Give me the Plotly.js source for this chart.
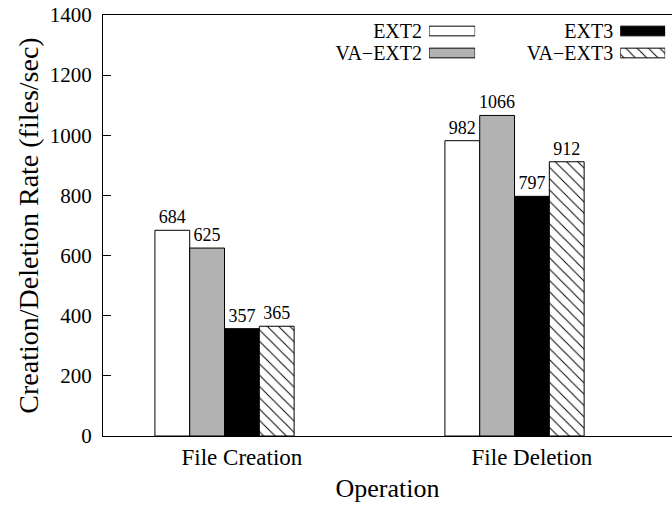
<!DOCTYPE html>
<html>
<head>
<meta charset="utf-8">
<script src="https://cdn.plot.ly/plotly-3.0.1.min.js"></script>
<style>
  html, body { margin: 0; padding: 0; background: #fff; }
  #chart { width: 672px; height: 506px; }
</style>
</head>
<body>
<div id="chart"></div>
<script>
// Throughput of file creation / deletion per file system
const categories = ['File Creation', 'File Deletion'];
const seriesNames = ['EXT2', 'VA\u2212EXT2', 'EXT3', 'VA\u2212EXT3'];
const ext2 = [684, 982];
const vaExt2 = [625, 1066];
const ext3 = [357, 797];
const vaExt3 = [365, 912];
const yTicks = [0, 200, 400, 600, 800, 1000, 1200, 1400];

const series = [ext2, vaExt2, ext3, vaExt3];

// Bar appearance and placement inside each cluster
const FONT = '"Liberation Serif", "Times New Roman", serif';
const fills = ['#ffffff', '#b2b2b2', '#000000', '#ffffff'];
const hatch = ['', '', '', '\\'];
const offsets = [-0.30, -0.18, -0.06, 0.06];
const BAR_W = 0.12;

function markerFor(i) {
  return {
    color: fills[i],
    line: { color: '#000', width: 1 },
    pattern: { shape: hatch[i], fgcolor: '#000', bgcolor: '#fff', size: 8, solidity: 0.12 }
  };
}

const traces = series.map((vals, i) => ({
  type: 'bar',
  name: seriesNames[i],
  x: categories,
  y: vals,
  width: BAR_W,
  offset: offsets[i],
  text: vals.map(String),
  textposition: 'outside',
  constraintext: 'none',
  cliponaxis: false,
  textfont: { family: FONT, size: 18, color: '#000' },
  marker: markerFor(i),
  showlegend: false,
  hoverinfo: 'x+y+name'
}));

// Key: two columns, label on the left and a sample box on the right
const keyColumns = [[0, 1], [2, 3]];
keyColumns.forEach((idx, c) => {
  idx.forEach(i => {
    traces.push({
      type: 'bar',
      orientation: 'h',
      xaxis: 'x' + (c + 2),
      yaxis: 'y' + (c + 2),
      y: [seriesNames[i]],
      x: [1],
      width: 0.44,
      marker: markerFor(i),
      showlegend: false,
      hoverinfo: 'skip'
    });
  });
});

function keyY(c) {
  const names = keyColumns[c].map(i => seriesNames[i]);
  return {
    type: 'category', categoryorder: 'array', categoryarray: names,
    range: [1.5, -0.5], domain: [0.8836, 0.9881], anchor: 'x' + (c + 2),
    tickmode: 'array', tickvals: names, ticktext: names,
    showline: false, showgrid: false, zeroline: false, ticks: '',
    ticklabelstandoff: 6,
    tickfont: { family: FONT, size: 20, color: '#000' }
  };
}
function keyX(c, dom) {
  return { range: [0, 1], visible: false, domain: dom, anchor: 'y' + (c + 2) };
}

const layout = {
  width: 672,
  height: 506,
  margin: { l: 103, r: 0, t: 15, b: 70 },
  paper_bgcolor: '#fff',
  plot_bgcolor: '#fff',
  barmode: 'overlay',
  showlegend: false,
  xaxis: {
    type: 'category',
    range: [-0.479, 1.483],
    showline: true,
    linecolor: '#000',
    linewidth: 1,
    mirror: true,
    ticks: '',
    showgrid: false,
    zeroline: false,
    ticklabelstandoff: 0,
    tickfont: { family: FONT, size: 23, color: '#000' },
    title: { text: 'Operation', font: { family: FONT, size: 26, color: '#000' }, standoff: 10 }
  },
  yaxis: {
    range: [0, 1400],
    tickvals: yTicks,
    ticktext: yTicks.map(String),
    showline: true,
    linecolor: '#000',
    linewidth: 1,
    ticks: 'inside',
    ticklen: 8,
    tickcolor: '#000',
    showgrid: false,
    zeroline: false,
    ticklabelstandoff: 6,
    tickfont: { family: FONT, size: 21, color: '#000' },
    title: { text: 'Creation/Deletion Rate (files/sec)', font: { family: FONT, size: 28, color: '#000' }, standoff: 2 }
  },
  xaxis2: keyX(0, [0.573, 0.654]),
  yaxis2: keyY(0),
  xaxis3: keyX(1, [0.909, 0.988]),
  yaxis3: keyY(1)
};

Plotly.newPlot('chart', traces, layout, { displayModeBar: false, staticPlot: true });
</script>
</body>
</html>
